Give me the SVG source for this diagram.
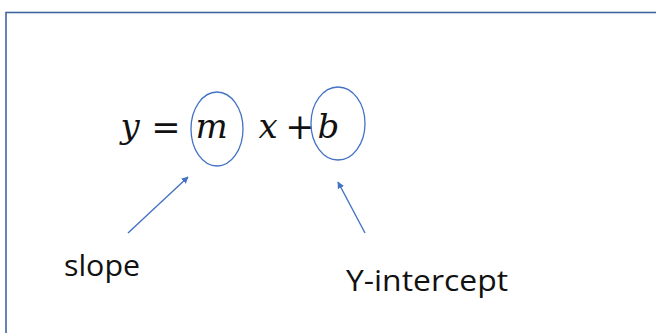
<svg xmlns="http://www.w3.org/2000/svg" width="656" height="333" viewBox="0 0 656 333">
<style>
.frame{fill:#ffffff;stroke:#41659f;stroke-width:1.6}
.ring{fill:none;stroke:#4472C4;stroke-width:1.3}
.math{font-family:"DejaVu Serif","Liberation Serif",serif;font-size:34px;fill:#111111;text-anchor:middle}
.op{font-size:35px}
.it{font-style:italic}
.label{font-family:"Open Sans","Liberation Sans",sans-serif;font-size:30px;fill:#111111}
.conn{stroke:#4472C4;stroke-width:1.4;fill:none}
</style>
<defs>
<marker id="ah" viewBox="0 0 10 10" refX="9" refY="5" markerWidth="7" markerHeight="7" markerUnits="userSpaceOnUse" orient="auto">
<path d="M0,0 L10,5 L0,10 z" fill="#4472C4"/>
</marker>
</defs>
<rect width="656" height="333" fill="#ffffff"/>
<rect class="frame" x="6" y="12.5" width="720" height="400"/>
<g id="equation">
<text class="math it" x="130" y="138">y</text>
<text class="math op" x="166" y="139">=</text>
<text class="math it" x="211.5" y="138">m</text>
<text class="math it" x="268" y="138">x</text>
<text class="math op" x="300" y="139">+</text>
<text class="math it" x="328.5" y="138">b</text>
</g>
<g id="m-circle"><ellipse class="ring" cx="217" cy="129" rx="26" ry="37"/></g>
<g id="b-circle"><ellipse class="ring" cx="338" cy="123.5" rx="27" ry="36.5"/></g>
<g id="slope"><text class="label" x="64" y="276" textLength="76" lengthAdjust="spacingAndGlyphs">slope</text></g>
<g id="y-intercept"><text class="label" x="346" y="291" textLength="162" lengthAdjust="spacingAndGlyphs">Y-intercept</text></g>
<g id="connectors">
<line class="conn" x1="128" y1="233" x2="188" y2="177" marker-end="url(#ah)"/>
<line class="conn" x1="365" y1="233" x2="338" y2="182" marker-end="url(#ah)"/>
</g>
</svg>
